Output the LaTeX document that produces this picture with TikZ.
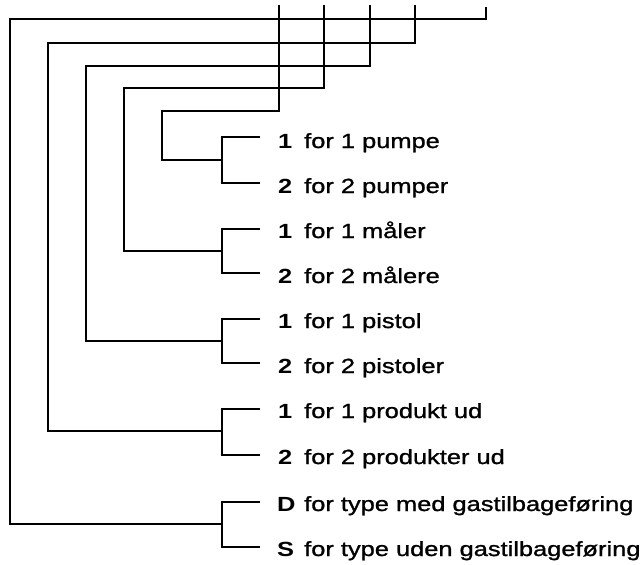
\documentclass[tikz,border=0pt]{standalone}
\usepackage{fontspec}
\setmainfont[FakeStretch=1.24, UprightFeatures={FakeBold=1.2}]{Liberation Sans}
\begin{document}
\begin{tikzpicture}[
    x=1pt, y=-1pt,
    wire/.style={
        line width=1.5pt,
        },
    code/.style={
        font=\fontsize{20.5}{24}\selectfont\bfseries,
        anchor=base west,
        inner sep=0pt,
        },
    desc/.style={
        font=\fontsize{20.5}{24}\selectfont,
        anchor=base west,
        inner sep=0pt,
        },
    ]

    \useasboundingbox (0,0) rectangle (643,565);

    % top ends and bends
    \coordinate (top1) at (279,5);
    \coordinate (top2) at (324,5);
    \coordinate (top3) at (370,5);
    \coordinate (top4) at (415,5);
    \coordinate (top5) at (486,7);

    \coordinate (bend1) at (162,111);
    \coordinate (bend2) at (124,88);
    \coordinate (bend3) at (86,66);
    \coordinate (bend4) at (48,43);
    \coordinate (bend5) at (10,19);

    % brackets
    \coordinate (br1) at (222,160);
    \coordinate (br2) at (222,251);
    \coordinate (br3) at (222,341);
    \coordinate (br4) at (222,431);
    \coordinate (br5) at (222,524);

    \coordinate (up1) at (260,137);
    \coordinate (dn1) at (260,183);
    \coordinate (up2) at (260,229);
    \coordinate (dn2) at (260,273);
    \coordinate (up3) at (260,319);
    \coordinate (dn3) at (260,363);
    \coordinate (up4) at (260,409);
    \coordinate (dn4) at (260,455);
    \coordinate (up5) at (260,502);
    \coordinate (dn5) at (260,547);

    \draw [wire] (top1) |- (bend1) |- (br1);
    \draw [wire] (top2) |- (bend2) |- (br2);
    \draw [wire] (top3) |- (bend3) |- (br3);
    \draw [wire] (top4) |- (bend4) |- (br4);
    \draw [wire] (top5) |- (bend5) |- (br5);

    \draw [wire] (up1) -| (br1) |- (dn1);
    \draw [wire] (up2) -| (br2) |- (dn2);
    \draw [wire] (up3) -| (br3) |- (dn3);
    \draw [wire] (up4) -| (br4) |- (dn4);
    \draw [wire] (up5) -| (br5) |- (dn5);

    % options
    \node [code] (pump1) at (278,148) {1};
    \node [desc] (pump1t) at (304,148) {for 1 pumpe};
    \node [code] (pump2) at (278,193) {2};
    \node [desc] (pump2t) at (304,193) {for 2 pumper};

    \node [code] (meter1) at (278,238) {1};
    \node [desc] (meter1t) at (304,238) {for 1 måler};
    \node [code] (meter2) at (278,283) {2};
    \node [desc] (meter2t) at (304,283) {for 2 målere};

    \node [code] (gun1) at (278,328) {1};
    \node [desc] (gun1t) at (304,328) {for 1 pistol};
    \node [code] (gun2) at (278,373) {2};
    \node [desc] (gun2t) at (304,373) {for 2 pistoler};

    \node [code] (prod1) at (278,418) {1};
    \node [desc] (prod1t) at (304,418) {for 1 produkt ud};
    \node [code] (prod2) at (278,464) {2};
    \node [desc] (prod2t) at (304,464) {for 2 produkter ud};

    \node [code] (typeD) at (277,511) {D};
    \node [desc] (typeDt) at (304,511) {for type med gastilbageføring};
    \node [code] (typeS) at (277,556) {S};
    \node [desc] (typeSt) at (304,556) {for type uden gastilbageføring};

\end{tikzpicture}
\end{document}
